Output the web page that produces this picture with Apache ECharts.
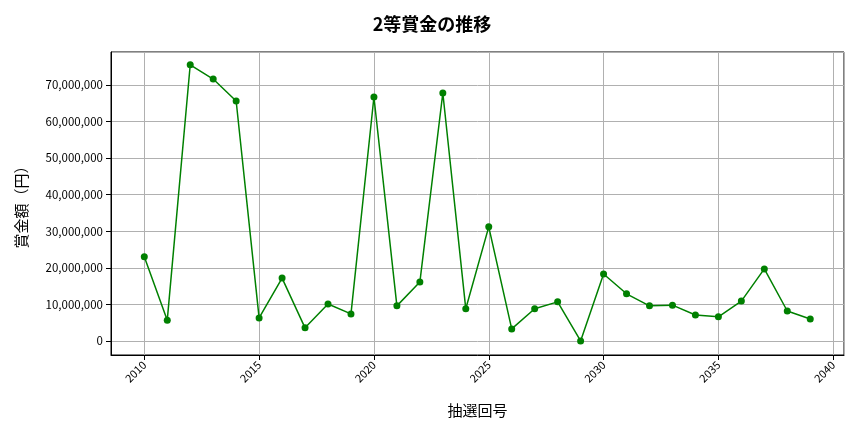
<!DOCTYPE html>
<html><head><meta charset="utf-8">
<script src="https://cdn.jsdelivr.net/npm/echarts@6/dist/echarts.min.js"></script>
<style>html,body{margin:0;background:#fff}#c{width:864px;height:432px}</style>
</head><body><div id="c"></div>
<script>
const years = [2010,2011,2012,2013,2014,2015,2016,2017,2018,2019,2020,2021,2022,2023,2024,2025,2026,2027,2028,2029,2030,2031,2032,2033,2034,2035,2036,2037,2038,2039];
const prizes = [23000000,5700000,75500000,71600000,65600000,6300000,17200000,3600000,10100000,7400000,66700000,9600000,16100000,67800000,8800000,31200000,3300000,8800000,10700000,0,18300000,12900000,9600000,9800000,7100000,6600000,10900000,19700000,8200000,6000000];
const titleText = '2等賞金の推移';
const xName = '抽選回号';
const yName = '賞金額（円）';
const F = '"Noto Sans CJK JP", sans-serif';
const chart = echarts.init(document.getElementById('c'));
chart.setOption({
  animation:false,
  title:{text:titleText,left:'center',top:10,textStyle:{fontFamily:F,fontSize:18,fontWeight:'bold',color:'#000'}},
  grid:{left:111,right:20,top:52,bottom:77,show:true,borderColor:'#000',borderWidth:1},
  xAxis:{type:'value',min:2008.55,max:2040.47,splitNumber:6,name:xName,nameLocation:'middle',nameGap:48,
    nameTextStyle:{fontFamily:F,fontSize:15,color:'#000'},
    axisLine:{onZero:false,lineStyle:{color:'#000'}},axisTick:{lineStyle:{color:'#000'}},
    axisLabel:{rotate:45,fontFamily:F,fontSize:11,color:'#000',showMinLabel:false,showMaxLabel:false,
      formatter:v=>(Math.abs(v%5)<1e-6?String(v):'')},
    splitLine:{show:true,lineStyle:{color:'#b0b0b0'}}},
  yAxis:{type:'value',min:-3830000,max:79000000,splitNumber:8,name:yName,nameLocation:'middle',nameGap:82,
    nameTextStyle:{fontFamily:F,fontSize:15,color:'#000'},
    axisLine:{show:true,onZero:false,lineStyle:{color:'#000'}},axisTick:{show:true,lineStyle:{color:'#000'}},
    axisLabel:{fontFamily:F,fontSize:11.5,color:'#000',showMinLabel:false,showMaxLabel:false,
      formatter:v=>(v>=0&&Math.abs(v%10000000)<1?v.toLocaleString('en-US'):'')},
    splitLine:{show:true,lineStyle:{color:'#b0b0b0'}}},
  series:[{type:'line',data:years.map((y,i)=>[y,prizes[i]]),color:'#008000',symbol:'circle',symbolSize:7,
    lineStyle:{width:1.5,color:'#008000'},itemStyle:{color:'#008000'}}]
});
</script></body></html>
